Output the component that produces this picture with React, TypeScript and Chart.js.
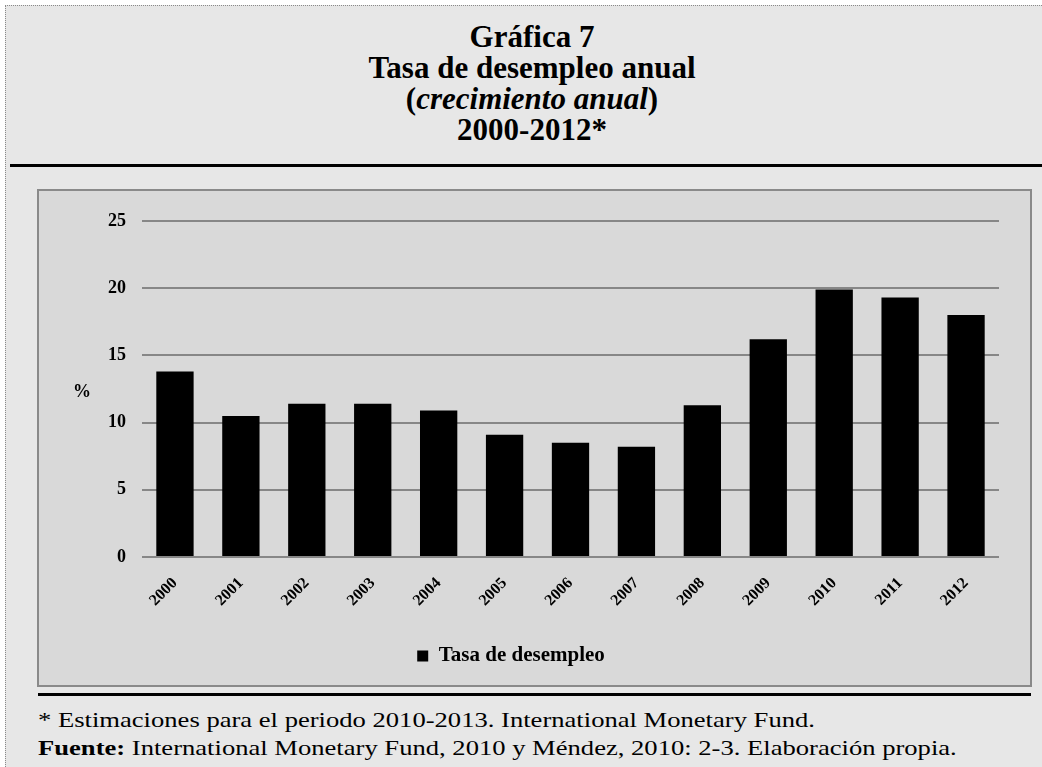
import React, { useEffect, useRef } from "react";
import { Chart, registerables } from "chart.js";

Chart.register(...registerables);

const categories = ["2000", "2001", "2002", "2003", "2004", "2005", "2006", "2007", "2008", "2009", "2010", "2011", "2012"];
const seriesLabel = "Tasa de desempleo";
const unemploymentRate = [13.8, 10.5, 11.4, 11.4, 10.9, 9.1, 8.5, 8.2, 11.3, 16.2, 19.9, 19.3, 18.0];
const yMin = 0;
const yMax = 25;
const yStep = 5;
const yAxisLabel = "%";

const titleLines = ["Gráfica 7", "Tasa de desempleo anual", "(crecimiento anual)", "2000-2012*"];
const footnote = "* Estimaciones para el periodo 2010-2013. International Monetary Fund.";
const sourceLead = "Fuente:";
const sourceText = " International Monetary Fund, 2010 y Méndez, 2010: 2-3. Elaboración propia.";

const SERIF = "'Liberation Serif', 'Times New Roman', Times, serif";

export default function App() {
  const canvasRef = useRef<HTMLCanvasElement | null>(null);

  useEffect(() => {
    document.body.style.margin = "0";
    const canvas = canvasRef.current;
    if (!canvas) return;

    const percentPlugin = {
      id: "percentLabel",
      afterDraw(chart: any) {
        const { ctx, chartArea } = chart;
        ctx.save();
        ctx.font = `bold 18px ${SERIF}`;
        ctx.fillStyle = "#000";
        ctx.textAlign = "center";
        ctx.textBaseline = "middle";
        ctx.fillText(yAxisLabel, 59, (chartArea.top + chartArea.bottom) / 2 + 3);
        ctx.restore();
      },
    };

    const chart = new Chart(canvas, {
      type: "bar",
      data: {
        labels: categories,
        datasets: [
          {
            label: seriesLabel,
            data: unemploymentRate,
            backgroundColor: "#000000",
            borderColor: "#000000",
            borderWidth: 0,
            categoryPercentage: 1,
            barPercentage: 0.566,
          },
        ],
      },
      options: {
        animation: false,
        responsive: false,
        maintainAspectRatio: false,
        devicePixelRatio: 1,
        layout: { padding: { left: 0, right: 20, top: 28, bottom: 6.5 } },
        plugins: {
          tooltip: { enabled: false },
          title: { display: false },
          legend: {
            display: true,
            position: "bottom",
            labels: {
              boxWidth: 11,
              boxHeight: 11,
              padding: 10,
              color: "#000",
              font: { family: SERIF, size: 21, weight: "bold" },
            },
          },
        },
        scales: {
          x: {
            grid: { display: false },
            border: { display: false },
            ticks: {
              autoSkip: false,
              maxRotation: 45,
              minRotation: 45,
              padding: 9,
              color: "#000",
              font: { family: SERIF, size: 16, weight: "bold" },
            },
            afterFit: (scale: any) => {
              scale.height = 78.5;
            },
          },
          y: {
            min: yMin,
            max: yMax,
            grid: { color: "#878787", lineWidth: 2, drawTicks: false },
            border: { display: false },
            ticks: {
              stepSize: yStep,
              padding: 16,
              color: "#000",
              font: { family: SERIF, size: 18, weight: "bold" },
            },
            afterFit: (scale: any) => {
              scale.width = 119;
            },
          },
        },
      },
      plugins: [percentPlugin],
    });

    return () => {
      chart.destroy();
    };
  }, []);

  const footStyle: React.CSSProperties = {
    position: "absolute",
    left: 38,
    fontFamily: SERIF,
    fontSize: "26.6px",
    lineHeight: "26.6px",
    color: "#000",
    whiteSpace: "nowrap",
    transform: "scaleY(0.82)",
    transformOrigin: "0 22.3px",
  };

  return (
    <div style={{ position: "absolute", left: 0, top: 0, width: 1042, height: 767, overflow: "hidden", background: "#ffffff" }}>
      <div
        style={{
          position: "absolute",
          left: 5,
          top: 5,
          width: 1042,
          height: 767,
          background: "#e7e7e7",
          borderLeft: "1px dotted #8a8a8a",
          borderTop: "1px dotted #8a8a8a",
        }}
      />
      {titleLines.map((line, i) => (
        <div
          key={i}
          style={{
            position: "absolute",
            left: 0,
            width: 1064,
            top: 21 + i * 31,
            textAlign: "center",
            fontFamily: SERIF,
            fontWeight: "bold",
            fontSize: "31px",
            lineHeight: "31px",
            color: "#000",
            whiteSpace: "nowrap",
          }}
        >
          {i === 2 ? (
            <span>
              (<i>{line.slice(1, -1)}</i>)
            </span>
          ) : (
            line
          )}
        </div>
      ))}
      <div style={{ position: "absolute", left: 10, top: 164, width: 1040, height: 3, background: "#000" }} />
      <div
        style={{
          position: "absolute",
          left: 37,
          top: 189,
          width: 991,
          height: 494,
          background: "#d9d9d9",
          border: "2px solid #8a8a8a",
        }}
      />
      <canvas
        ref={canvasRef}
        width={996}
        height={490}
        style={{ position: "absolute", left: 23, top: 193, width: 996, height: 490 }}
      />
      <div style={{ position: "absolute", left: 38, top: 693, width: 993, height: 3, background: "#000" }} />
      <div style={{ ...footStyle, top: 705 }}>{footnote}</div>
      <div style={{ ...footStyle, top: 733 }}>
        <b>{sourceLead}</b>
        {sourceText}
      </div>
    </div>
  );
}
